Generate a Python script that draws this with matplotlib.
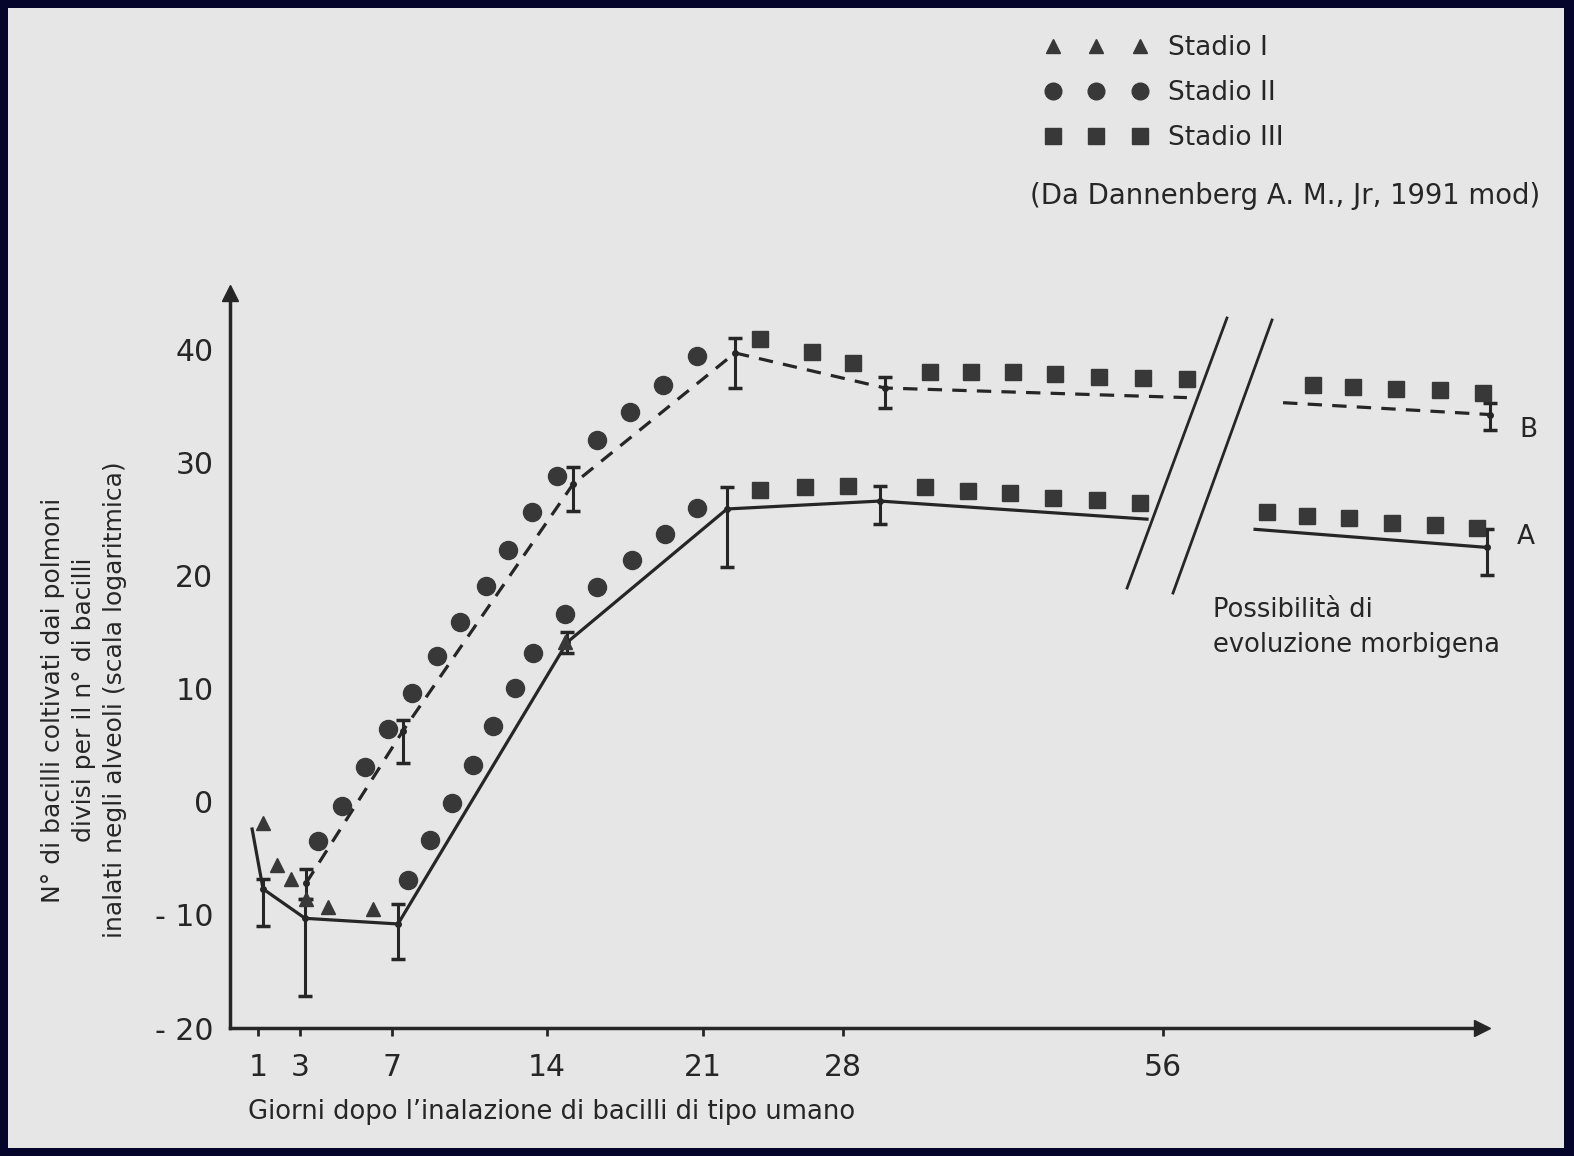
import numpy as np
import matplotlib
matplotlib.use("Agg")
import matplotlib.pyplot as plt
from matplotlib.lines import Line2D
from matplotlib.patches import Rectangle

plt.rcParams['font.family'] = ['DejaVu Sans']

# ---------------- data (days after inhalation, value) ----------------
tick_days = [1, 3, 7, 14, 21, 28, 56]
tick_labels = ['1', '3', '7', '14', '21', '28', '56']
ytick_vals = [-20, -10, 0, 10, 20, 30, 40]
ytick_labels = ['- 20', '- 10', '0', '10', '20', '30', '40']

# Stadio I (triangles)
st1_days = [1.24, 1.9, 2.57, 3.26, 4.22, 6.17, 14.8]
st1_vals = [-1.9, -5.6, -6.8, -8.6, -9.3, -9.5, 14.1]

# Stadio II (circles) - upper series (curve B)
st2b_days = [3.78, 4.83, 5.83, 6.83, 7.90, 9.03, 10.07, 11.25, 12.24, 13.32,
             14.45, 16.24, 17.72, 19.20, 20.73]
st2b_vals = [-3.5, -0.4, 3.1, 6.4, 9.6, 12.9, 15.9, 19.1, 22.3, 25.6,
             28.8, 32.0, 34.5, 36.9, 39.4]
# Stadio II (circles) - lower series (curve A)
st2a_days = [7.72, 8.72, 9.71, 10.66, 11.56, 12.55, 13.37, 14.81, 16.24,
             17.81, 19.29, 20.73]
st2a_vals = [-6.9, -3.4, -0.1, 3.3, 6.7, 10.1, 13.2, 16.6, 19.0, 21.4,
             23.7, 26.0]

# Stadio III (squares) - upper series (curve B)
st3b_days = [23.85, 26.45, 28.87, 35.61, 39.2, 42.87, 46.55, 50.4, 54.25,
             58.1, 69.17, 72.68, 76.46, 80.32, 84.1]
st3b_vals = [40.9, 39.8, 38.8, 38.0, 38.0, 38.0, 37.8, 37.6, 37.5, 37.4,
             36.9, 36.7, 36.5, 36.4, 36.2]
# Stadio III (squares) - lower series (curve A)
st3a_days = [23.85, 26.1, 28.44, 35.17, 38.93, 42.61, 46.37, 50.22, 53.99,
             65.13, 68.64, 72.33, 76.1, 79.88, 83.57]
st3a_vals = [27.6, 27.8, 27.9, 27.8, 27.5, 27.3, 26.9, 26.7, 26.4, 25.6,
             25.3, 25.1, 24.7, 24.5, 24.2]

# curve A (solid), nan = axis break
lineA_days = [0.79, 1.24, 3.22, 7.27, 14.9, 22.2, 31.24, 54.6, np.nan, 64.08, 84.45]
lineA_vals = [-2.4, -7.7, -10.3, -10.8, 14.1, 25.9, 26.6, 25.0, np.nan, 24.1, 22.5]
# curve B (dashed)
lineB_days = [3.26, 7.5, 15.17, 22.6, 31.67, 58.1, np.nan, 66.54, 84.7]
lineB_vals = [-7.2, 6.3, 28.1, 39.7, 36.6, 35.75, np.nan, 35.3, 34.25]

# error bars curve A
errA_days = [1.24, 3.22, 7.27, 14.9, 22.2, 31.24, 84.45]
errA_mid = [-7.7, -10.3, -10.8, 14.1, 25.9, 26.6, 22.5]
errA_top = [-6.8, -8.6, -9.0, 15.0, 27.8, 27.9, 24.1]
errA_bot = [-11.0, -17.2, -13.9, 13.2, 20.8, 24.6, 20.1]
# error bars curve B
errB_days = [3.26, 7.5, 15.17, 22.6, 31.67, 84.7]
errB_mid = [-7.2, 6.3, 28.1, 39.7, 36.6, 34.25]
errB_top = [-5.9, 7.2, 29.6, 41.0, 37.6, 35.3]
errB_bot = [-8.6, 3.4, 25.7, 36.6, 34.8, 32.9]

# ---------------- figure ----------------
W, H = 1574, 1156
fig = plt.figure(figsize=(W / 100, H / 100), dpi=100, facecolor='#05052c')
fig.patches.append(Rectangle((8 / W, 8 / H), (W - 18) / W, (H - 16) / H,
                             transform=fig.transFigure, facecolor='#e6e6e6',
                             edgecolor='none', zorder=-10))

ax_l, ax_r, ax_b, ax_t = 230, 1482, 1028, 293
ax = fig.add_axes([ax_l / W, 1 - ax_b / H, (ax_r - ax_l) / W, (ax_b - ax_t) / H])
ax.set_facecolor('none')

# non-uniform (broken) time axis
SCALE_DAYS = [-100, 0, 1, 3, 7, 14, 21, 28, 56, 84, 300]
SCALE_POS = [-2570, 230, 258, 300, 392, 547, 703, 843, 1163, 1482, 3942]


def fwd(d):
    return np.interp(d, SCALE_DAYS, SCALE_POS)


def inv(p):
    return np.interp(p, SCALE_POS, SCALE_DAYS)


ax.set_xscale('function', functions=(fwd, inv))
ax.set_xlim(0, 84)
ax.set_ylim(-20, 45)

ink = '#262626'
mark = '#383838'

ax.plot(lineA_days, lineA_vals, color=ink, lw=2.3, clip_on=False, zorder=3)
ax.plot(lineB_days, lineB_vals, color=ink, lw=2.3, dashes=(4.5, 3.2),
        clip_on=False, zorder=3)

for d, m, t, b in ((errA_days, errA_mid, errA_top, errA_bot),
                   (errB_days, errB_mid, errB_top, errB_bot)):
    m = np.array(m)
    yerr = [m - np.array(b), np.array(t) - m]
    eb = ax.errorbar(d, m, yerr=yerr, fmt='o', ms=4, color=ink, ecolor=ink,
                     elinewidth=2.2, capsize=5, capthick=2.5, zorder=4)
    for art in eb.lines[1] + eb.lines[2]:
        art.set_clip_on(False)
    eb.lines[0].set_clip_on(False)

ax.plot(st1_days, st1_vals, ls='none', marker='^', ms=10, color=mark,
        clip_on=False, zorder=5)
ax.plot(st2b_days, st2b_vals, ls='none', marker='o', ms=13, color=mark,
        clip_on=False, zorder=5)
ax.plot(st2a_days, st2a_vals, ls='none', marker='o', ms=13, color=mark,
        clip_on=False, zorder=5)
ax.plot(st3b_days, st3b_vals, ls='none', marker='s', ms=12, color=mark,
        clip_on=False, zorder=5)
ax.plot(st3a_days, st3a_vals, ls='none', marker='s', ms=12, color=mark,
        clip_on=False, zorder=5)

# axis break marks
ax.plot([0.7963, 0.7165], [0.966, 0.5986], transform=ax.transAxes,
        color=ink, lw=2, clip_on=False)
ax.plot([0.8323, 0.7532], [0.9633, 0.5918], transform=ax.transAxes,
        color=ink, lw=2, clip_on=False)

# spines / arrows
for s in ('top', 'right'):
    ax.spines[s].set_visible(False)
for s in ('left', 'bottom'):
    ax.spines[s].set_linewidth(2.5)
    ax.spines[s].set_color(ink)
ax.plot([0], [1], marker='^', ms=12, color=ink, transform=ax.transAxes,
        clip_on=False)
ax.plot([1], [0], marker='>', ms=12, color=ink, transform=ax.transAxes,
        clip_on=False)

ax.set_xticks(tick_days)
ax.set_xticklabels(tick_labels)
ax.set_yticks(ytick_vals)
ax.set_yticklabels(ytick_labels)
ax.tick_params(axis='x', direction='out', length=6, width=2, color=ink,
               labelsize=21.5, pad=12, labelcolor=ink)
ax.tick_params(axis='y', length=0, labelsize=21.5, pad=12, labelcolor=ink)
ax.xaxis.set_minor_locator(matplotlib.ticker.NullLocator())

# curve labels & notes
ax.text(1.030, 0.8136, 'B', transform=ax.transAxes, fontsize=19,
        color=ink, va='center', ha='left')
ax.text(1.028, 0.668, 'A', transform=ax.transAxes, fontsize=19,
        color=ink, va='center', ha='left')
ax.text(0.785, 0.5687, 'Possibilità di', transform=ax.transAxes,
        fontsize=18.5, color=ink, va='center', ha='left')
ax.text(0.785, 0.521, 'evoluzione morbigena', transform=ax.transAxes,
        fontsize=18.5, color=ink, va='center', ha='left')

fig.text(248 / W, 1 - 1112 / H,
         'Giorni dopo l\u2019inalazione di bacilli di tipo umano',
         fontsize=18.6, color=ink, ha='left', va='center')
fig.text(84 / W, 1 - 700 / H,
         'N\u00b0 di bacilli coltivati dai polmoni\n'
         'divisi per il n\u00b0 di bacilli\n'
         'inalati negli alveoli (scala logaritmica)',
         rotation=90, fontsize=18, color=ink, ha='center', va='center',
         multialignment='center', linespacing=1.36)

fig.text(1030 / W, 1 - 196 / H, '(Da Dannenberg A. M., Jr, 1991 mod)',
         fontsize=19.8, color=ink, ha='left', va='center')

handles = [Line2D([], [], ls='none', marker='^', ms=10, color=mark),
           Line2D([], [], ls='none', marker='o', ms=12, color=mark),
           Line2D([], [], ls='none', marker='s', ms=11, color=mark)]
leg = fig.legend(handles, ['Stadio I', 'Stadio II', 'Stadio III'],
                 loc='upper left', bbox_to_anchor=(1045 / W, 1 - 35 / H),
                 frameon=False, numpoints=3, fontsize=19, handlelength=3.9,
                 handletextpad=0.76, labelspacing=0.72, borderpad=0,
                 borderaxespad=0)
for t in leg.get_texts():
    t.set_color(ink)

fig.savefig('out.png', dpi=100, facecolor=fig.get_facecolor())
